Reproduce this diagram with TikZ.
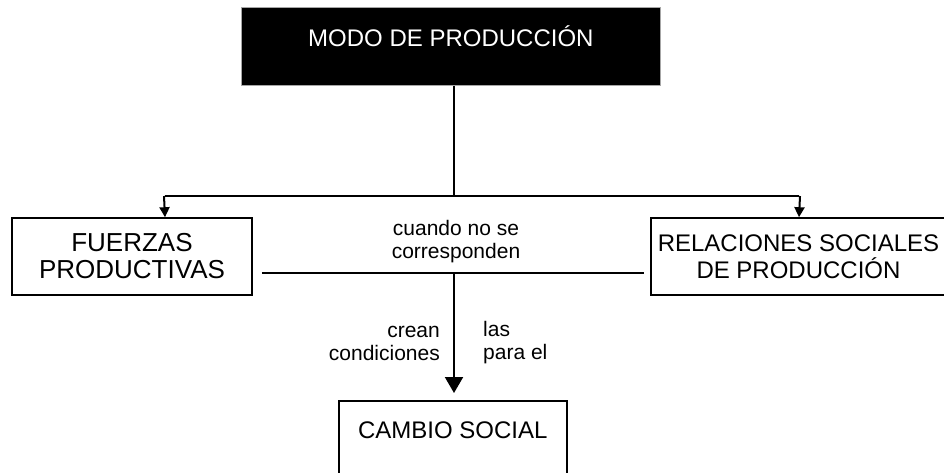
\documentclass[tikz,border=0pt]{standalone}
\usepackage{fontspec}
\setmainfont{Liberation Sans}
\usepackage{tikz}
\usetikzlibrary{positioning,arrows.meta,calc}

\begin{document}
\begin{tikzpicture}[
  x=1pt,y=-1pt,
  box/.style={draw,line width=1.6pt,inner sep=0pt,align=center,font=\fontsize{24}{27}\selectfont},
  topbox/.style={fill=black,draw=gray!70,line width=0.8pt,text=white,inner sep=0pt,font=\fontsize{24}{27}\selectfont},
  conn/.style={line width=2pt},
  tip/.style={-{Triangle[length=10pt,width=10pt]}},
  bigtip/.style={-{Triangle[length=16pt,width=18pt]}},
  lbl/.style={font=\fontsize{21}{23}\selectfont,inner sep=0pt}
]
\useasboundingbox (0,0) rectangle (944,472);
\clip (0,0) rectangle (944,472);

% --- boxes ---
\node[topbox,minimum width=419pt,text height=39.5pt,text depth=38.5pt,anchor=north west]
  (modo) at (241,7) {MODO DE PRODUCCI\'ON};
\node[box,minimum width=240pt,minimum height=77pt,font=\fontsize{26}{27}\selectfont]
  (fuerzas) at (132,256.5) {FUERZAS\\PRODUCTIVAS};
\node[box,minimum width=295pt,minimum height=77pt] (relac) at (798.5,256.5) {RELACIONES SOCIALES\\DE PRODUCCI\'ON};
\node[box,minimum width=228pt,text height=37.5pt,text depth=40.5pt,anchor=north west]
  (cambio) at (338,400) {CAMBIO SOCIAL};

% --- branch from the top ---
\coordinate (split) at (454,196);
\coordinate (lft) at (165,196);
\coordinate (rgt) at (799,196);
\draw[conn] (modo.south -| split) -- (split);
\draw[conn] (lft) -- (rgt);
\draw[conn,tip] ([xshift=-1pt]lft) -- (lft |- fuerzas.north);
\draw[conn,tip] ([xshift=1pt]rgt) -- (rgt |- relac.north);

% --- meeting line and arrow down ---
\coordinate (meet) at (454,273);
\draw[conn] ([xshift=9pt]fuerzas.east |- meet) -- ([xshift=-6pt]relac.west |- meet);
\draw[conn,bigtip,shorten >=7pt] (meet) -- (cambio.north -| meet);

% --- labels ---
\node[lbl,align=center] (cuando) at (456,242) {cuando no se\\corresponden};
\node[lbl,align=right,anchor=east] (crean) at (440,343) {crean\\condiciones};
\node[lbl,align=left,anchor=west] (las) at (483,343) {las\\para el};
\end{tikzpicture}
\end{document}
